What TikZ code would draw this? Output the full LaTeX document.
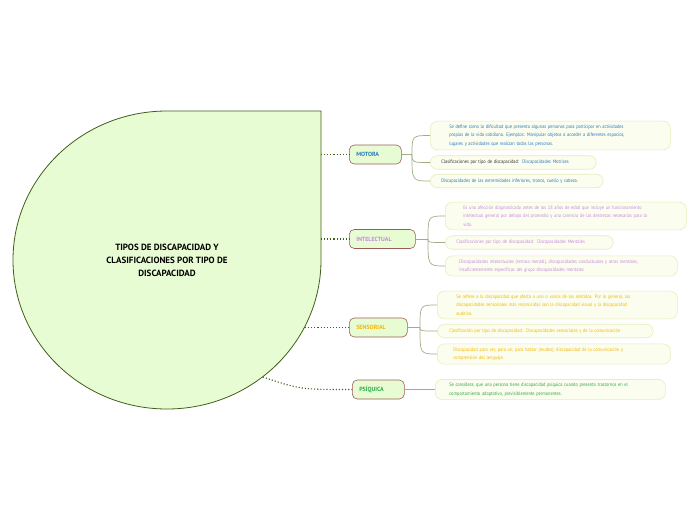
\documentclass[tikz,border=0pt]{standalone}
\usepackage{fontspec}
\setmainfont{PT Sans}
\newfontfamily\hojafont[FakeStretch=0.88]{PT Sans}
\newfontfamily\ramafont{PT Sans}

\definecolor{verdeclaro}{HTML}{E8FCD4}
\definecolor{verdeosc}{HTML}{3F5F1A}
\definecolor{marron}{HTML}{9C5B5B}
\definecolor{fondohoja}{HTML}{FBFDEE}
\definecolor{bordehoja}{HTML}{E9EDB8}
\definecolor{gris}{HTML}{9FAE88}
\definecolor{azul}{HTML}{2A78BE}
\definecolor{violeta}{HTML}{C68AE0}
\definecolor{naranja}{HTML}{F2B705}
\definecolor{verde}{HTML}{2DAA46}
\definecolor{oscuro}{HTML}{333333}

\tikzset{
  centro/.style={draw=verdeosc, fill=verdeclaro, line width=0.8pt},
  titulo/.style={align=center, font=\ramafont\bfseries\fontsize{9}{13}\selectfont},
  rama/.style={draw=marron, fill=verdeclaro, rounded corners=5pt, line width=0.6pt,
    anchor=west, inner xsep=7pt, minimum height=19pt, align=left,
    font=\ramafont\bfseries\fontsize{6}{7}\selectfont},
  hoja/.style={draw=bordehoja, fill=fondohoja, rounded corners=7pt, line width=0.6pt,
    anchor=west, align=left, inner ysep=3.5pt, minimum height=13.5pt,
    font=\hojafont\fontsize{5}{8.5}\selectfont},
  punteada/.style={draw=verdeosc, line width=1.1pt, dotted},
  enlace/.style={draw=gris, line width=0.7pt},
}

\begin{document}
\begin{tikzpicture}[x=1pt,y=-1pt]

\useasboundingbox[fill=white] (0,0) rectangle (696,520);

% Central topic
\draw[centro] (321,260) -- (321,111) -- (167,111)
    arc[start angle=270,end angle=0,x radius=154,y radius=149] -- cycle;
\node[titulo] (tit) at (167,260)
    {TIPOS DE DISCAPACIDAD Y\\CLASIFICACIONES POR TIPO DE\\DISCAPACIDAD};

\coordinate (cm) at (321,154.5);
\coordinate (ci) at (321,239);
\coordinate (cs) at (305,327.5);
\coordinate (cp) at (263,377);

% Main branches
\node[rama, text width=38pt, text=azul] (motora) at (349,154.5) {MOTORA};
\node[rama, text width=52pt, text=violeta] (intelectual) at (349,239) {INTELECTUAL};
\node[rama, text width=44pt, text=naranja] (sensorial) at (349,327.5) {SENSORIAL};
\node[rama, text width=38pt, text=verde] (psiquica) at (352,389.5) {PSÍQUICA};

\draw[punteada] (cm) -- (motora.west);
\draw[punteada] (ci) -- (intelectual.west);
\draw[punteada] (cs) -- (sensorial.west);
\draw[punteada] (cp) .. controls (300,389.5) .. (psiquica.west);

% Motora
\node[hoja, text=azul, inner xsep=19pt, text width=202pt] (m1) at (430,135.5)
    {Se define como  la dificultad  que presenta algunas personas para participar en actividades\\
     propias de la vida cotidiana. Ejemplos: Manipular objetos o acceder a diferentes espacios,\\
     lugares y actividades que realizan todas las personas.};
\node[hoja, inner xsep=11pt, text width=144pt] (m2) at (430,162.5)
    {\textcolor{oscuro}{Clasificaciones por tipo de discapacidad:}\ \ \textcolor{azul}{Discapacidades Motrices}};
\node[hoja, text=azul, inner xsep=11pt, text width=151pt] (m3) at (430,181)
    {Discapacidades de las extremidades inferiores, tronco, cuello y cabeza.};

% Intelectual
\node[hoja, text=violeta, inner xsep=18pt, text width=205pt] (i1) at (445,216)
    {Es una afección diagnosticada antes de los 18 años de edad que incluye un funcionamiento\\
     intelectual general por debajo del promedio y una carencia de las destrezas necesarias para la\\
     vida.};
\node[hoja, text=violeta, inner xsep=11pt, text width=146pt] (i2) at (445,242.5)
    {Clasificaciones por tipo de discapacidad:\ \ Discapacidades Mentales};
\node[hoja, text=violeta, inner xsep=14pt, text width=204pt] (i3) at (445,266)
    {Discapacidades  intelectuales (retraso mental), discapacidades conductuales y otras mentales,\\
     Insuficientemente especificas del grupo discapacidades mentales};

% Sensorial
\node[hoja, text=naranja, inner xsep=19pt, text width=202pt] (s1) at (437,305)
    {Se refiere a la discapacidad que afecta a uno o varios de los sentidos. Por lo general, las\\
     discapacidades sensoriales más reconocidas son la discapacidad visual y la discapacidad\\
     auditiva.};
\node[hoja, text=naranja, inner xsep=12pt, text width=192pt] (s2) at (437,331)
    {Clasificación por tipo de discapacidad:\ \ Discapacidades sensoriales y de la comunicación};
\node[hoja, text=naranja, inner xsep=16pt, text width=201pt] (s3) at (437,354)
    {Discapacidad para ver, para oír, para hablar (mudez), discapacidad de la comunicación y\\
     comprensión del lenguaje.};

% Psiquica
\node[hoja, text=verde, inner xsep=14pt, text width=202pt] (p1) at (435,389.5)
    {Se considera, que una persona tiene discapacidad psíquica cuando presenta trastornos en el\\
     comportamiento adaptativo, previsiblemente permanentes.};

% Links to leaves
\coordinate (hm) at (412,154.5);
\coordinate (hi) at (428,239);
\coordinate (hs) at (420,327.5);

\draw[enlace] (motora.east) -- (hm);
\foreach \h in {m1,m2,m3}
    \draw[enlace] (hm) .. controls (hm |- \h.west) .. (\h.west);

\draw[enlace] (intelectual.east) -- (hi);
\foreach \h in {i1,i2,i3}
    \draw[enlace] (hi) .. controls (hi |- \h.west) .. (\h.west);

\draw[enlace] (sensorial.east) -- (hs);
\foreach \h in {s1,s2,s3}
    \draw[enlace] (hs) .. controls (hs |- \h.west) .. (\h.west);

\draw[enlace] (psiquica.east) -- (p1.west);

\end{tikzpicture}
\end{document}
